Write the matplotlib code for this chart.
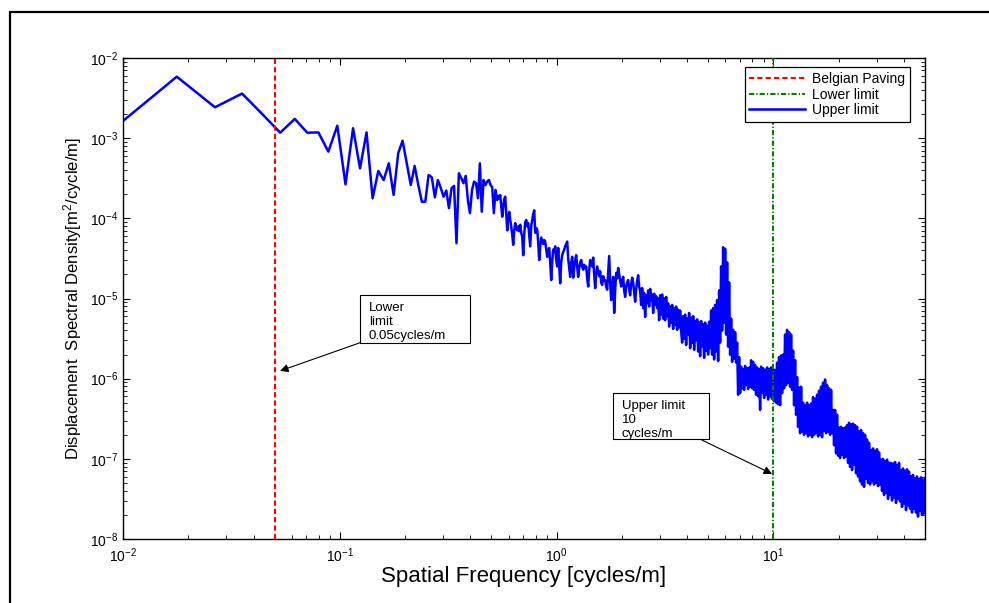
import numpy as np
import matplotlib.pyplot as plt
from matplotlib.patches import Rectangle
from matplotlib.ticker import LogLocator, FuncFormatter, NullFormatter

plt.rcParams['font.family'] = ['Liberation Sans', 'DejaVu Sans']
plt.rcParams['mathtext.default'] = 'regular'

# frequency step of the spectrum (cycles/m)
df = 0.00885

# first 60 bins, read one by one
psd_low = [1.25e-3, 5.85e-3, 2.43e-3, 3.60e-3, 1.95e-3, 1.17e-3, 1.74e-3, 1.17e-3,
           1.18e-3, 6.8e-4, 1.43e-3, 2.66e-4, 1.33e-3, 4.2e-4, 1.18e-3, 1.78e-4,
           3.9e-4, 3.0e-4, 4.86e-4, 1.96e-4, 6.48e-4, 9.3e-4, 4.9e-4, 2.61e-4,
           4.5e-4, 2.6e-4, 1.61e-4, 1.61e-4, 3.48e-4, 3.25e-4, 1.83e-4, 3.0e-4,
           2.4e-4, 1.86e-4, 2.22e-4, 1.34e-4, 2.37e-4, 2.54e-4, 4.9e-5, 3.65e-4,
           3.19e-4, 2.74e-4, 3.38e-4, 1.7e-4, 1.16e-4, 2.26e-4, 2.87e-4, 2.74e-4,
           1.78e-4, 4.86e-4, 1.21e-4, 3.01e-4, 2.6e-4, 2.87e-4, 3.01e-4, 2.6e-4,
           2.44e-4, 1.16e-4, 2.26e-4, 1.7e-4]

# from 0.53 to 50 cycles/m, log10 of the PSD, log-evenly sampled
psd_high_log = [
    -3.77, -3.72, -3.75, -3.71, -3.85, -3.98, -3.86, -3.76, -3.73, -3.95,
    -4.15, -4.00, -3.92, -4.02, -4.10, -4.20, -4.33, -4.15, -4.06, -4.12,
    -4.15, -4.10, -4.16, -4.08, -4.18, -4.23, -4.46, -4.20, -4.05, -4.02,
    -4.10, -4.06, -4.20, -4.35, -4.10, -4.02, -3.95, -3.90, -4.18, -4.12,
    -4.14, -4.30, -4.52, -4.35, -4.24, -4.28, -4.32, -4.27, -4.29, -4.38,
    -4.48, -4.40, -4.37, -4.55, -4.77, -4.55, -4.39, -4.42, -4.35, -4.52,
    -4.60, -4.37, -4.58, -4.81, -4.55, -4.46, -4.42, -4.39, -4.35, -4.32,
    -4.29, -4.50, -4.62, -4.73, -4.55, -4.48, -4.74, -4.62, -4.52, -4.46,
    -4.60, -4.73, -4.62, -4.55, -4.52, -4.60, -4.64, -4.58, -4.62, -4.60,
    -4.75, -4.85, -4.65, -4.52, -4.55, -4.60, -4.49, -4.70, -4.87, -4.70,
    -4.60, -4.66, -4.72, -4.66, -4.80, -4.83, -4.72, -4.78, -4.77, -4.85,
    -4.89, -4.68, -4.47, -4.80, -5.02, -4.85, -4.73, -5.18, -4.90, -4.68,
    -4.75, -4.62, -4.70, -4.77, -4.85, -4.78, -4.73, -4.90, -4.98, -4.85,
    -4.80, -4.77, -4.88, -4.96, -4.82, -4.74, -4.80, -4.92, -5.04, -4.88,
    -4.78, -4.71, -4.85,
    # band from ~2.3 cycles/m
    -4.91, -5.08, -4.87, -5.12, -4.93, -5.23, -4.96, -5.06, -4.90, -5.10,
    -4.88, -5.02, -4.95, -5.18, -4.94, -5.08, -4.97, -5.12, -5.00, -5.27,
    -4.96, -5.20, -4.95, -5.25, -5.00, -5.27, -4.98, -5.22, -5.06, -5.35,
    -5.10, -5.30, -5.08, -5.38, -5.12, -5.33, -5.10, -5.39, -5.14, -5.36,
    -5.15, -5.40, -5.55, -5.22, -5.50, -5.20, -5.58, -5.25, -5.45, -5.18,
    -5.62, -5.24, -5.55, -5.22, -5.64, -5.28, -5.52, -5.26, -5.66, -5.30,
    -5.72, -5.28, -5.60, -5.32, -5.74, -5.30, -5.65, -5.34, -5.70, -5.29,
    -5.62, -5.15, -5.70, -5.12, -5.76, -5.08, -5.66, -5.02, -5.78, -4.90,
    # peak near 6 cycles/m
    -5.55, -4.60, -5.40, -4.36, -5.30, -4.38, -5.45, -4.55, -5.60, -4.80,
    -5.70, -5.25, -5.79, -5.39, -5.75, -5.42, -5.80, -5.55, -6.20, -5.73,
    -6.18, -5.85, -6.12, -5.88, -6.14, -5.84, -6.08, -5.87, -6.13, -5.86,
    -6.10, -5.77, -6.12, -5.79, -6.14, -5.83, -6.20, -5.86, -6.22, -5.88,
    -6.39, -5.85, -6.18, -5.87, -6.24, -5.89, -6.20, -5.86, -6.26, -5.88,
    -6.22, -5.86, -6.25, -5.88, -6.28, -5.89, -6.30, -5.80, -6.32, -5.73,
    -6.33, -5.71, -6.18, -5.70, -6.12, -5.45, -6.08, -5.39, -6.05, -5.42,
    -6.10, -5.45, -6.14, -5.65, -6.33, -5.77, -6.45, -5.98, -6.60, -6.11,
    -6.68, -6.10, -6.66, -6.30, -6.70, -6.33, -6.68, -6.30, -6.72, -6.33,
    -6.70, -6.31, -6.73, -6.23, -6.70, -6.25, -6.68, -6.20, -6.72, -6.15,
    -6.70, -6.10, -6.73, -6.05, -6.65, -6.01, -6.68, -6.08, -6.66, -6.12,
    -6.70, -6.14, -6.68, -6.39, -6.83, -6.39, -6.93, -6.45, -6.96, -6.61,
    -6.99, -6.60, -6.95, -6.62, -6.99, -6.61, -6.97, -6.58, -7.05, -6.55,
    -7.10, -6.57, -7.14, -6.56, -7.07, -6.58, -7.18, -6.60, -7.22, -6.66,
    -7.28, -6.64, -7.32, -6.68, -7.35, -6.70, -7.25, -6.76, -7.30, -6.80,
    -7.32, -6.89, -7.28, -6.87, -7.32, -6.90, -7.30, -6.88, -7.34, -6.92,
    -7.32, -7.01, -7.40, -7.00, -7.45, -7.03, -7.42, -7.01, -7.50, -7.05,
    -7.45, -7.05, -7.52, -7.06, -7.48, -7.04, -7.55, -7.08, -7.50, -7.05,
    -7.53, -7.14, -7.60, -7.12, -7.56, -7.15, -7.64, -7.13, -7.58, -7.16,
    -7.62, -7.22, -7.67, -7.20, -7.62, -7.24, -7.67, -7.22, -7.72, -7.25,
    -7.65, -7.23, -7.70, -7.26, -7.68, -7.24,
]

cut_low = 0.05
cut_high = 10
legend_labels = ['Belgian Paving', 'Lower limit', 'Upper limit']

freq_low = df * np.arange(1, len(psd_low) + 1)
freq_high = np.geomspace(0.532, 50, len(psd_high_log))
freq = np.concatenate([freq_low, freq_high])
psd = np.concatenate([psd_low, 10.0 ** np.array(psd_high_log)])

fig = plt.figure(figsize=(9.89, 6.03), dpi=100)
ax = fig.add_axes([0.1244, 0.1061, 0.8109, 0.7977])

l1 = ax.axvline(cut_low, color='red', lw=1.5, ls='--', dashes=(2.5, 1.5), zorder=3)
l2 = ax.axvline(cut_high, color='#008000', lw=1.5, ls='-.', dashes=(2.5, 1, 0.6, 1), zorder=3)
l3, = ax.plot(freq, psd, color='blue', lw=1.8, zorder=2)

ax.set_xscale('log')
ax.set_yscale('log')
ax.set_xlim(0.01, 50)
ax.set_ylim(1e-8, 1e-2)

fmt = FuncFormatter(lambda v, p: r'$10^{%d}$' % round(np.log10(v)))
for axis in (ax.xaxis, ax.yaxis):
    axis.set_major_locator(LogLocator(base=10, numticks=20))
    axis.set_minor_locator(LogLocator(base=10, subs=np.arange(2, 10), numticks=20))
    axis.set_major_formatter(fmt)
    axis.set_minor_formatter(NullFormatter())
ax.tick_params(which='both', direction='in', top=True, right=True, labelsize=10)
ax.tick_params(which='major', length=5)
ax.tick_params(which='minor', length=3)
ax.tick_params(axis='x', which='major', pad=5)
for s in ax.spines.values():
    s.set_linewidth(1.0)

ax.set_xlabel('Spatial Frequency [cycles/m]', fontsize=16, labelpad=1)
ax.set_ylabel('Displacement  Spectral Density[m$^2$/cycle/m]', fontsize=12, labelpad=4)

leg = ax.legend([l1, l2, l3], legend_labels, loc='upper right',
                bbox_to_anchor=(0.981, 0.981), borderaxespad=0, fontsize=10,
                handlelength=4.0, handletextpad=0.5, labelspacing=0.12,
                fancybox=False, edgecolor='black', framealpha=1, borderpad=0.35)
leg.get_frame().set_linewidth(0.9)

# annotation boxes (axes fraction) and arrows to the limit lines
arrow = dict(arrowstyle='-|>', color='black', lw=0.8, shrinkA=0, shrinkB=0,
             mutation_scale=12)
ax.add_patch(Rectangle((0.2955, 0.4081), 0.1372, 0.0992, transform=ax.transAxes,
                       fc='white', ec='black', lw=0.8, zorder=4))
ax.text(0.3067, 0.4935, 'Lower\nlimit\n0.05cycles/m', transform=ax.transAxes,
        ha='left', va='top', fontsize=9.5, linespacing=1.25, zorder=5)
ax.annotate('', xy=(0.053, 1.25e-6), xycoords='data',
            xytext=(0.2955, 0.4081), textcoords='axes fraction', arrowprops=arrow)

ax.add_patch(Rectangle((0.6106, 0.2073), 0.1201, 0.0969, transform=ax.transAxes,
                       fc='white', ec='black', lw=0.8, zorder=4))
ax.text(0.6218, 0.2895, 'Upper limit\n10\ncycles/m', transform=ax.transAxes,
        ha='left', va='top', fontsize=9.5, linespacing=1.25, zorder=5)
ax.annotate('', xy=(9.85, 6.5e-8), xycoords='data',
            xytext=(0.7217, 0.2058), textcoords='axes fraction', arrowprops=arrow)

fig.patches.append(Rectangle((10 / 989, -0.05), 1.1, 1 - 12 / 603 + 0.05,
                             transform=fig.transFigure, fill=False, lw=1.6,
                             ec='black', clip_on=False))

fig.savefig('out.png', dpi=100)
